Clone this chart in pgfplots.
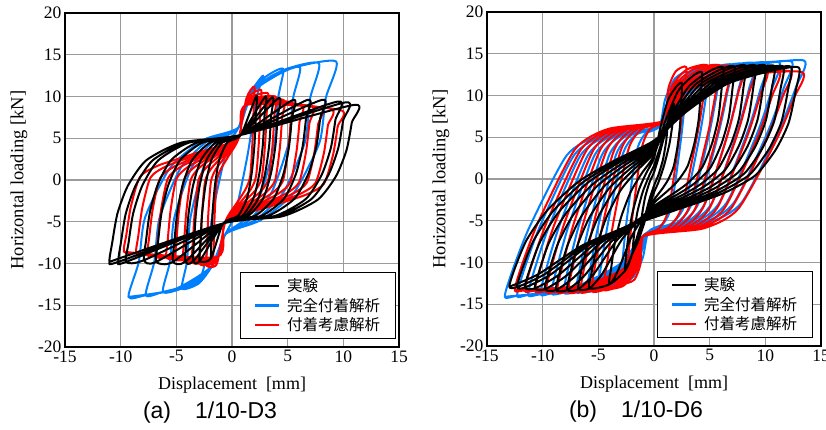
\documentclass[border=0pt]{standalone}
\usepackage{fontspec}
\setmainfont{Liberation Serif}
\newfontfamily\arial{Liberation Sans}
\newfontfamily\cjk{Noto Sans CJK JP}
\usepackage{pgfplots}
\pgfplotsset{compat=1.18}
\definecolor{cblue}{RGB}{0,128,255}
\definecolor{cred}{RGB}{255,0,0}
\definecolor{cgrid}{RGB}{155,155,155}
\pgfplotsset{
 hyst/.style={
  scale only axis, width=334pt, height=334pt,
  xmin=-15,xmax=15,ymin=-20,ymax=20,
  xtick={-15,-10,-5,0,5,10,15}, xticklabels={-15,-10,-5,0,5,10,15},
  ytick={-20,-15,-10,-5,0,5,10,15,20}, yticklabels={-20,-15,-10,-5,0,5,10,15,20},
  grid=major, major grid style={cgrid, line width=1.4pt},
  major tick length=0pt,
  axis line style={black, line width=1.1pt},
  tick label style={font=\fontsize{17.5}{17.5}\selectfont},
  xlabel={Displacement\ \ [mm]},
  ylabel={Horizontal loading [kN]},
  xlabel style={at={(axis description cs:0.5,-0.114)}, anchor=center, font=\fontsize{18}{18}\selectfont},
  ylabel style={at={(axis description cs:-0.138,0.5)}, anchor=center, font=\fontsize{18.5}{18.5}\selectfont},
  legend style={at={(0.99,0.024)}, anchor=south east, draw=black, line width=1pt, fill=white,
    font=\cjk\fontsize{15.5}{15.5}\selectfont, inner xsep=13pt, inner ysep=4pt, row sep=1pt, cells={anchor=west}},
  legend image code/.code={\draw[#1] (0pt,0pt) -- (24pt,0pt); \path (29pt,0pt);},
  every axis plot/.append style={line width=2.0pt, line join=round, mark=none, smooth, tension=0.4},
 }
}
\begin{document}
\begin{tikzpicture}
\useasboundingbox (-65pt,-83pt) rectangle (761pt,347pt);
\begin{axis}[hyst, name=A]
\addlegendimage{black, line width=2.6pt}\addlegendentry{実験}
\addlegendimage{cblue, line width=2.6pt}\addlegendentry{完全付着解析}
\addlegendimage{cred, line width=2.6pt}\addlegendentry{付着考慮解析}
% blue (full bond)
\addplot[cblue, forget plot] coordinates {
(-3.0,-12.4) (-2.4,-9.8) (-1.6,-3) (-0.4,4) (0.6,6.3) (1.6,10.3) (2.8,12.5)
(2.2,9.8) (1.4,3) (0.3,-4) (-0.6,-6.5) (-1.8,-10.3) (-3.0,-12.4)
(-4.5,-13.0) (-4.05,-9.8) (-3.73,-4.5) (-2.56,1.5) (-1.03,4.8) (0.6,6.3) (1.8,10.5) (3.06,12.4) (4.6,13.3)
(4.14,9.8) (3.82,4.5) (2.62,-1.5) (1.06,-4.8) (-0.6,-6.5) (-1.8,-10.3) (-3.02,-12.1) (-4.5,-13.0)
(-6.2,-13.4) (-5.58,-9.8) (-5.18,-4.5) (-3.62,1.5) (-1.58,4.8) (0.6,6.3) (1.8,10.5) (3.74,12.6) (6.1,13.5)
(5.49,9.8) (5.1,4.5) (3.55,-1.5) (1.54,-4.8) (-0.6,-6.5) (-1.8,-10.3) (-3.78,-12.5) (-6.2,-13.4)
(-7.75,-13.8) (-6.98,-9.8) (-6.5,-4.5) (-4.58,1.5) (-2.07,4.8) (0.6,6.3) (1.8,10.5) (4.5,13.1) (7.8,14.0)
(7.02,9.8) (6.54,4.5) (4.61,-1.5) (2.09,-4.8) (-0.6,-6.5) (-1.8,-10.3) (-4.48,-12.9) (-7.75,-13.8)
(-9.3,-14.0) (-8.37,-9.8) (-7.81,-4.5) (-5.54,1.5) (-2.57,4.8) (0.6,6.3) (1.8,10.5) (5.2,13.3) (9.35,14.2)
(8.42,9.8) (7.86,4.5) (5.57,-1.5) (2.58,-4.8) (-0.6,-6.5) (-1.8,-10.3) (-5.18,-13.1) (-9.3,-14.0)
};
% red (bond-slip)
\addplot[cred, forget plot] coordinates {
(-1.7,-10.4) (-1.65,-8.09) (-1.56,-4.24) (-1.38,-0.24) (-1.01,1.3) (-0.32,2.84) (0.6,5.0) (1.3,9.8) (2.0,11.2)
(1.95,8.77) (1.84,4.72) (1.64,0.51) (1.22,-1.11) (0.44,-2.73) (-0.6,-5.0) (-1.3,-9.8) (-1.7,-10.4)
(-2.3,-10.2) (-2.24,-7.92) (-2.13,-4.12) (-1.89,-0.17) (-1.43,1.35) (-0.56,2.87) (0.6,5.0) (1.3,9.6) (2.6,10.8)
(2.54,8.43) (2.41,4.48) (2.15,0.37) (1.64,-1.21) (0.68,-2.79) (-0.6,-5.0) (-1.3,-9.6) (-2.3,-10.2)
(-2.9,-10.0) (-2.83,-7.75) (-2.69,-4.0) (-2.41,-0.1) (-1.85,1.4) (-0.8,2.9) (0.6,5.0) (1.3,9.5) (3.2,10.4)
(3.12,8.09) (2.97,4.24) (2.67,0.24) (2.06,-1.3) (0.92,-2.84) (-0.6,-5.0) (-1.3,-9.5) (-2.9,-10.0)
(-3.6,-9.8) (-3.52,-7.58) (-3.35,-3.88) (-3.01,-0.03) (-2.34,1.45) (-1.08,2.93) (0.6,5.0) (1.3,9.4) (3.9,10.0)
(3.81,7.75) (3.63,4.0) (3.27,0.1) (2.55,-1.4) (1.2,-2.9) (-0.6,-5.0) (-1.3,-9.4) (-3.6,-9.8)
(-4.4,-9.6) (-4.3,-7.41) (-4.1,-3.76) (-3.7,0.04) (-2.9,1.5) (-1.4,2.96) (0.6,5.0) (1.3,9.3) (4.6,9.6)
(4.5,7.41) (4.29,3.76) (3.87,-0.04) (3.04,-1.5) (1.48,-2.96) (-0.6,-5.0) (-1.3,-9.3) (-4.4,-9.6)
(-5.1,-9.45) (-4.99,-7.28) (-4.76,-3.67) (-4.3,0.09) (-3.39,1.53) (-1.68,2.98) (0.6,5.0) (1.3,9.1) (5.4,9.3)
(5.28,7.15) (5.04,3.58) (4.56,-0.14) (3.6,-1.57) (1.8,-3.0) (-0.6,-5.0) (-1.3,-9.2) (-5.1,-9.45)
(-5.9,-9.3) (-5.77,-7.15) (-5.51,-3.58) (-4.99,0.14) (-3.95,1.57) (-2.0,3.0) (0.6,5.0) (1.3,9.0) (6.2,9.0)
(6.06,6.9) (5.79,3.4) (5.25,-0.24) (4.16,-1.64) (2.12,-3.04) (-0.6,-5.0) (-1.3,-9.2) (-5.9,-9.3)
(-6.8,-9.15) (-6.65,-7.03) (-6.36,-3.49) (-5.76,0.19) (-4.58,1.6) (-2.36,3.02) (0.6,5.0) (1.3,9.0) (7.1,8.85)
(6.95,6.77) (6.64,3.31) (6.02,-0.29) (4.79,-1.68) (2.48,-3.06) (-0.6,-5.0) (-1.3,-9.2) (-6.8,-9.15)
(-7.6,-9.0) (-7.44,-6.9) (-7.11,-3.4) (-6.45,0.24) (-5.14,1.64) (-2.68,3.04) (0.6,5.0) (1.3,9.0) (7.9,8.7)
(7.73,6.64) (7.39,3.22) (6.71,-0.34) (5.35,-1.71) (2.8,-3.08) (-0.6,-5.0) (-1.3,-9.2) (-7.6,-9.0)
(-8.6,-8.8) (-8.42,-6.73) (-8.05,-3.28) (-7.31,0.31) (-5.84,1.69) (-3.08,3.07) (0.6,5.0) (1.3,9.0) (8.8,8.55)
(8.61,6.52) (8.24,3.13) (7.48,-0.39) (5.98,-1.75) (3.16,-3.1) (-0.6,-5.0) (-1.3,-9.2) (-8.6,-8.8)
(-9.7,-8.6) (-9.49,-6.56) (-9.08,-3.16) (-8.26,0.38) (-6.61,1.74) (-3.52,3.10) (0.6,5.0) (1.3,9.0) (9.7,8.4)
(9.49,6.39) (9.08,3.04) (8.26,-0.44) (6.61,-1.78) (3.52,-3.12) (-0.6,-5.0) (-1.3,-9.2) (-9.7,-8.6)
};
% black (experiment)
\addplot[black, forget plot] coordinates {
(-1.9,-9.4) (-1.85,-7.18) (-1.74,-3.78) (-1.52,-0.52) (-1.14,2.44) (-0.41,4.51) (0.8,5.4) (2.2,10.1)
(2.14,7.8) (2.02,4.29) (1.78,0.92) (1.36,-2.14) (0.55,-4.28) (-0.8,-5.2) (-1.9,-9.4)
(-2.9,-9.7) (-2.83,-7.43) (-2.68,-3.96) (-2.38,-0.64) (-1.86,2.38) (-0.86,4.49) (0.8,5.4) (3.0,10.0)
(2.92,7.72) (2.77,4.22) (2.47,0.88) (1.94,-2.16) (0.91,-4.29) (-0.8,-5.2) (-2.9,-9.7)
(-3.5,-9.75) (-3.41,-7.48) (-3.24,-3.99) (-2.9,-0.66) (-2.3,2.37) (-1.13,4.49) (0.8,5.4) (3.6,9.9)
(3.51,7.63) (3.34,4.16) (2.98,0.84) (2.37,-2.18) (1.18,-4.29) (-0.8,-5.2) (-3.5,-9.75)
(-4.2,-9.8) (-4.1,-7.52) (-3.9,-4.02) (-3.5,-0.68) (-2.8,2.36) (-1.45,4.49) (0.8,5.4) (4.2,9.8)
(4.1,7.55) (3.9,4.1) (3.5,0.8) (2.8,-2.2) (1.45,-4.3) (-0.8,-5.2) (-4.2,-9.8)
(-5.3,-9.8) (-5.18,-7.52) (-4.93,-4.02) (-4.45,-0.68) (-3.59,2.36) (-1.94,4.49) (0.8,5.4) (5.5,9.6)
(5.37,7.38) (5.12,3.98) (4.62,0.72) (3.74,-2.24) (2.03,-4.31) (-0.8,-5.2) (-5.3,-9.8)
(-6.8,-9.8) (-6.65,-7.52) (-6.34,-4.02) (-5.74,-0.68) (-4.67,2.36) (-2.62,4.49) (0.8,5.4) (6.8,9.6)
(6.65,7.38) (6.34,3.98) (5.74,0.72) (4.67,-2.24) (2.62,-4.31) (-0.8,-5.2) (-6.8,-9.8)
(-7.9,-9.6) (-7.73,-7.35) (-7.38,-3.9) (-6.68,-0.6) (-5.46,2.4) (-3.11,4.5) (0.8,5.4) (8.1,9.6)
(7.92,7.38) (7.57,3.98) (6.85,0.72) (5.61,-2.24) (3.2,-4.31) (-0.8,-5.2) (-7.9,-9.6)
(-9.5,-9.8) (-9.29,-7.52) (-8.88,-4.02) (-8.06,-0.68) (-6.62,2.36) (-3.83,4.49) (0.8,5.4) (9.5,9.4)
(9.29,7.21) (8.88,3.85) (8.06,0.64) (6.62,-2.28) (3.83,-4.32) (-0.8,-5.2) (-9.5,-9.8)
(-10.2,-9.8) (-9.98,-7.52) (-9.54,-4.02) (-8.66,-0.68) (-7.12,2.36) (-4.15,4.49) (0.8,5.4) (10.2,9.3)
(9.98,7.12) (9.54,3.79) (8.66,0.6) (7.12,-2.3) (4.15,-4.33) (-0.8,-5.2) (-10.2,-9.8)
(-11,-9.8) (-10.76,-7.52) (-10.29,-4.02) (-9.35,-0.68) (-7.7,2.36) (-4.51,4.49) (0.8,5.4) (11,9.0)
(10.76,6.87) (10.29,3.6) (9.35,0.48) (7.7,-2.36) (4.51,-4.35) (-0.8,-5.2) (-11,-9.8)
};
\end{axis}
\node[font=\arial\fontsize{23}{23}\selectfont, xshift=-22pt, yshift=-66pt] at (A.south) {(a)\hspace{24pt}1/10-D3};
\begin{axis}[hyst, name=B, at={(422pt,1pt)}, anchor=south west, legend style={at={(0.975,0.024)}}]
\addlegendimage{black, line width=2.6pt}\addlegendentry{実験}
\addlegendimage{cblue, line width=2.6pt}\addlegendentry{完全付着解析}
\addlegendimage{cred, line width=2.6pt}\addlegendentry{付着考慮解析}
\addplot[cblue, forget plot] coordinates {
(-3.0,-12.5) (-2.82,-9.57) (-2.44,-4.79) (-1.6,3.1) (-0.83,5.36) (0.5,6.3) (1.0,9.55) (1.88,12.02) (3.0,12.8)
(2.82,9.82) (2.44,4.97) (1.6,-3.05) (0.83,-5.35) (-0.5,-6.3) (-1.0,-9.4) (-1.88,-11.76) (-3.0,-12.5)
(-5.0,-13.2) (-4.72,-10.16) (-4.12,-5.2) (-2.8,2.99) (-1.59,5.33) (0.5,6.3) (1.4,9.85) (2.98,12.55) (5.0,13.4)
(4.72,10.33) (4.12,5.32) (2.8,-2.95) (1.59,-5.32) (-0.5,-6.3) (-1.4,-9.75) (-2.98,-12.37) (-5.0,-13.2)
(-6.0,-13.4) (-5.67,-10.33) (-4.96,-5.32) (-3.4,2.95) (-1.97,5.32) (0.5,6.3) (1.6,9.95) (3.53,12.72) (6.0,13.6)
(5.67,10.5) (4.96,5.44) (3.4,-2.92) (1.97,-5.31) (-0.5,-6.3) (-1.6,-9.85) (-3.53,-12.55) (-6.0,-13.4)
(-7.0,-13.5) (-6.62,-10.41) (-5.8,-5.38) (-4.0,2.93) (-2.35,5.31) (0.5,6.3) (1.8,10.0) (4.08,12.81) (7.0,13.7)
(6.62,10.58) (5.8,5.5) (4.0,-2.9) (2.35,-5.3) (-0.5,-6.3) (-1.8,-9.9) (-4.08,-12.64) (-7.0,-13.5)
(-8.1,-13.6) (-7.67,-10.5) (-6.72,-5.44) (-4.66,2.92) (-2.77,5.31) (0.5,6.3) (2.0,10.05) (4.63,12.9) (8.0,13.8)
(7.57,10.66) (6.64,5.56) (4.6,-2.88) (2.73,-5.3) (-0.5,-6.3) (-2.02,-9.95) (-4.68,-12.72) (-8.1,-13.6)
(-9.2,-13.7) (-8.71,-10.58) (-7.65,-5.5) (-5.32,2.9) (-3.19,5.3) (0.5,6.3) (2.2,10.1) (5.18,12.99) (9.0,13.9)
(8.52,10.75) (7.48,5.62) (5.2,-2.87) (3.11,-5.29) (-0.5,-6.3) (-2.24,-10.0) (-5.29,-12.81) (-9.2,-13.7)
(-10.2,-13.8) (-9.66,-10.66) (-8.49,-5.56) (-5.92,2.88) (-3.57,5.3) (0.5,6.3) (2.42,10.13) (5.78,13.03) (10.1,13.95)
(9.57,10.79) (8.4,5.65) (5.86,-2.86) (3.53,-5.29) (-0.5,-6.3) (-2.44,-10.05) (-5.84,-12.9) (-10.2,-13.8)
(-11.3,-13.9) (-10.71,-10.75) (-9.41,-5.62) (-6.58,2.87) (-3.98,5.29) (0.5,6.3) (2.64,10.15) (6.39,13.08) (11.2,14.0)
(10.61,10.83) (9.33,5.68) (6.52,-2.85) (3.95,-5.29) (-0.5,-6.3) (-2.66,-10.1) (-6.44,-12.99) (-11.3,-13.9)
(-12.3,-14.0) (-11.66,-10.83) (-10.25,-5.68) (-7.18,2.85) (-4.36,5.29) (0.5,6.3) (2.86,10.2) (6.99,13.16) (12.3,14.1)
(11.66,10.92) (10.25,5.74) (7.18,-2.83) (4.36,-5.28) (-0.5,-6.3) (-2.86,-10.15) (-6.99,-13.08) (-12.3,-14.0)
(-13.4,-14.1) (-12.7,-10.92) (-11.18,-5.74) (-7.84,2.83) (-4.78,5.28) (0.5,6.3) (3.09,10.25) (7.62,13.25) (13.45,14.2)
(12.75,11.0) (11.22,5.79) (7.87,-2.82) (4.8,-5.28) (-0.5,-6.3) (-3.08,-10.2) (-7.6,-13.16) (-13.4,-14.1)
};
\addplot[cred, forget plot] coordinates {
(-2.5,-12.5) (-2.32,-9.46) (-1.94,-4.5) (-1.1,3.69) (-0.33,6.03) (1.0,7.0) (1.29,10.84) (1.95,12.89) (2.9,13.4)
(2.7,10.23) (2.28,5.08) (1.34,-3.45) (0.48,-5.89) (-1.0,-6.9) (-1.23,-10.26) (-1.75,-12.05) (-2.5,-12.5)
(-4.5,-13.3) (-4.22,-10.13) (-3.62,-4.98) (-2.3,3.55) (-1.09,5.99) (1.0,7.0) (1.57,10.96) (2.9,13.07) (4.8,13.6)
(4.51,10.4) (3.87,5.19) (2.48,-3.42) (1.2,-5.88) (-1.0,-6.9) (-1.53,-10.74) (-2.75,-12.79) (-4.5,-13.3)
(-5.6,-13.4) (-5.27,-10.22) (-4.54,-5.04) (-2.96,3.53) (-1.51,5.98) (1.0,7.0) (1.74,10.96) (3.45,13.07) (5.9,13.6)
(5.55,10.4) (4.8,5.19) (3.14,-3.42) (1.62,-5.88) (-1.0,-6.9) (-1.69,-10.8) (-3.3,-12.88) (-5.6,-13.4)
(-6.6,-13.5) (-6.22,-10.3) (-5.38,-5.09) (-3.56,3.52) (-1.89,5.98) (1.0,7.0) (1.89,10.9) (3.95,12.98) (6.9,13.5)
(6.5,10.32) (5.64,5.14) (3.74,-3.43) (2.0,-5.88) (-1.0,-6.9) (-1.84,-10.86) (-3.8,-12.97) (-6.6,-13.5)
(-7.7,-13.5) (-7.26,-10.3) (-6.31,-5.09) (-4.22,3.52) (-2.31,5.98) (1.0,7.0) (2.05,10.84) (4.5,12.89) (8.0,13.4)
(7.55,10.23) (6.56,5.08) (4.4,-3.45) (2.42,-5.89) (-1.0,-6.9) (-2.0,-10.86) (-4.35,-12.97) (-7.7,-13.5)
(-8.7,-13.5) (-8.21,-10.3) (-7.15,-5.09) (-4.82,3.52) (-2.69,5.98) (1.0,7.0) (2.2,10.78) (5.0,12.8) (9.0,13.3)
(8.5,10.15) (7.4,5.02) (5.0,-3.47) (2.8,-5.89) (-1.0,-6.9) (-2.16,-10.86) (-4.85,-12.97) (-8.7,-13.5)
(-9.7,-13.45) (-9.16,-10.26) (-7.99,-5.07) (-5.42,3.52) (-3.07,5.98) (1.0,7.0) (2.37,10.69) (5.55,12.66) (10.1,13.15)
(9.54,10.02) (8.32,4.93) (5.66,-3.49) (3.22,-5.9) (-1.0,-6.9) (-2.31,-10.83) (-5.35,-12.93) (-9.7,-13.45)
(-10.7,-13.4) (-10.11,-10.22) (-8.83,-5.04) (-6.02,3.53) (-3.45,5.98) (1.0,7.0) (2.53,10.6) (6.1,12.52) (11.2,13.0)
(10.59,9.9) (9.25,4.84) (6.32,-3.52) (3.64,-5.91) (-1.0,-6.9) (-2.46,-10.8) (-5.85,-12.88) (-10.7,-13.4)
(-11.6,-13.35) (-10.97,-10.18) (-9.58,-5.01) (-6.56,3.54) (-3.79,5.98) (1.0,7.0) (2.68,10.54) (6.6,12.43) (12.2,12.9)
(11.54,9.81) (10.09,4.78) (6.92,-3.53) (4.02,-5.91) (-1.0,-6.9) (-2.59,-10.77) (-6.3,-12.83) (-11.6,-13.35)
(-12.5,-13.3) (-11.82,-10.13) (-10.34,-4.98) (-7.1,3.55) (-4.13,5.99) (1.0,7.0) (2.85,10.48) (7.15,12.34) (13.3,12.8)
(12.58,9.73) (11.01,4.72) (7.58,-3.55) (4.43,-5.92) (-1.0,-6.9) (-2.73,-10.74) (-6.75,-12.79) (-12.5,-13.3)
};
\addplot[black, forget plot] coordinates {
(-1.2,-6.3) (-1.1,-4.5) (-0.8,-2.2) (-0.4,-0.4) (0,0.8) (0.4,2.5) (0.8,4.5) (1.2,6.5)
(1.1,4.6) (0.8,2.3) (0.4,0.5) (0,-0.8) (-0.4,-2.4) (-0.8,-4.4) (-1.2,-6.3)
(-1.9,-8.8) (-1.8,-6.8) (-1.5,-4.0) (-1.0,-1.5) (-0.4,0.5) (0,1.6) (0.5,3.6) (1.0,5.8) (1.5,7.9) (1.8,9.0)
(1.7,7.0) (1.4,4.3) (0.9,1.6) (0.4,-0.4) (0,-1.6) (-0.5,-3.6) (-1.0,-5.8) (-1.5,-7.7) (-1.9,-8.8)
(-2.6,-11.0) (-2.5,-9.24) (-2.29,-6.67) (-1.92,-3.97) (-1.35,-1.27) (-0.73,0.63) (0,2.52) (0.55,6.02) (1.25,9.43) (2.0,11.05) (2.5,11.5)
(2.45,9.4) (2.33,6.32) (2.1,3.8) (1.75,1.42) (1.25,-0.12) (0.78,-1.1) (0,-2.5) (-0.57,-3.86) (-1.3,-5.99) (-2.08,-9.47) (-2.6,-11.0)
(-4.0,-12.6) (-3.84,-10.6) (-3.52,-7.67) (-2.96,-4.59) (-2.08,-1.51) (-1.12,0.64) (0,2.8) (0.95,6.7) (2.15,10.5) (3.44,12.3) (4.3,12.8)
(4.21,10.45) (4.0,7.01) (3.61,4.19) (3.01,1.52) (2.15,-0.2) (1.33,-1.29) (0,-2.86) (-0.88,-4.42) (-2.0,-6.85) (-3.2,-10.85) (-4.0,-12.6)
(-5.8,-13.1) (-5.57,-10.99) (-5.1,-7.9) (-4.29,-4.64) (-3.02,-1.39) (-1.62,0.88) (0,3.16) (1.36,7.15) (3.1,11.04) (4.96,12.89) (6.2,13.4)
(6.08,10.9) (5.77,7.24) (5.21,4.25) (4.34,1.42) (3.1,-0.41) (1.92,-1.58) (0,-3.24) (-1.28,-4.82) (-2.9,-7.28) (-4.64,-11.33) (-5.8,-13.1)
(-6.8,-13.2) (-6.53,-11.05) (-5.98,-7.9) (-5.03,-4.59) (-3.54,-1.28) (-1.9,1.04) (0,3.36) (1.58,7.31) (3.6,11.17) (5.76,12.99) (7.2,13.5)
(7.06,10.96) (6.7,7.23) (6.05,4.18) (5.04,1.3) (3.6,-0.56) (2.23,-1.75) (0,-3.44) (-1.5,-5.0) (-3.4,-7.44) (-5.44,-11.44) (-6.8,-13.2)
(-7.8,-13.3) (-7.49,-11.11) (-6.86,-7.9) (-5.77,-4.53) (-4.06,-1.16) (-2.18,1.2) (0,3.56) (1.8,7.48) (4.1,11.29) (6.56,13.1) (8.2,13.6)
(8.04,11.01) (7.63,7.22) (6.89,4.12) (5.74,1.19) (4.1,-0.71) (2.54,-1.92) (0,-3.64) (-1.72,-5.19) (-3.9,-7.6) (-6.24,-11.56) (-7.8,-13.3)
(-8.8,-13.3) (-8.45,-11.08) (-7.74,-7.84) (-6.51,-4.43) (-4.58,-1.02) (-2.46,1.37) (0,3.76) (2.0,7.6) (4.55,11.34) (7.28,13.11) (9.1,13.6)
(8.92,10.99) (8.46,7.15) (7.64,4.02) (6.37,1.06) (4.55,-0.86) (2.82,-2.08) (0,-3.82) (-1.94,-5.34) (-4.4,-7.71) (-7.04,-11.59) (-8.8,-13.3)
(-9.8,-13.2) (-9.41,-10.97) (-8.62,-7.71) (-7.25,-4.28) (-5.1,-0.84) (-2.74,1.56) (0,3.96) (2.2,7.72) (5.0,11.38) (8.0,13.12) (10.0,13.6)
(9.8,10.96) (9.3,7.09) (8.4,3.92) (7.0,0.93) (5.0,-1.01) (3.1,-2.24) (0,-4.0) (-2.16,-5.47) (-4.9,-7.77) (-7.84,-11.54) (-9.8,-13.2)
(-10.7,-13.1) (-10.27,-10.86) (-9.42,-7.58) (-7.92,-4.14) (-5.56,-0.69) (-3.0,1.73) (0,4.14) (2.38,7.81) (5.4,11.39) (8.64,13.08) (10.8,13.55)
(10.58,10.89) (10.04,7.0) (9.07,3.81) (7.56,0.8) (5.4,-1.15) (3.35,-2.39) (0,-4.16) (-2.35,-5.59) (-5.35,-7.83) (-8.56,-11.49) (-10.7,-13.1)
(-11.6,-13.0) (-11.14,-10.75) (-10.21,-7.46) (-8.58,-3.99) (-6.03,-0.53) (-3.25,1.9) (0,4.32) (2.55,7.9) (5.8,11.39) (9.28,13.04) (11.6,13.5)
(11.37,10.83) (10.79,6.91) (9.74,3.7) (8.12,0.67) (5.8,-1.29) (3.6,-2.54) (0,-4.32) (-2.55,-5.71) (-5.8,-7.88) (-9.28,-11.44) (-11.6,-13.0)
(-12.3,-12.95) (-11.81,-10.69) (-10.82,-7.38) (-9.1,-3.9) (-6.4,-0.41) (-3.44,2.02) (0,4.46) (2.71,7.97) (6.15,11.38) (9.84,13.0) (12.3,13.45)
(12.05,10.76) (11.44,6.82) (10.33,3.6) (8.61,0.55) (6.15,-1.42) (3.81,-2.67) (0,-4.46) (-2.71,-5.82) (-6.15,-7.94) (-9.84,-11.42) (-12.3,-12.95)
(-13,-12.9) (-12.48,-10.62) (-11.44,-7.3) (-9.62,-3.8) (-6.76,-0.3) (-3.64,2.15) (0,4.6) (2.86,8.01) (6.5,11.34) (10.4,12.91) (13,13.35)
(12.74,10.66) (12.09,6.71) (10.92,3.48) (9.1,0.43) (6.5,-1.55) (4.03,-2.79) (0,-4.6) (-2.86,-5.93) (-6.5,-8.0) (-10.4,-11.41) (-13,-12.9)
};
\end{axis}
\node[font=\arial\fontsize{23}{23}\selectfont, xshift=-18pt, yshift=-66pt] at (B.south) {(b)\hspace{24pt}1/10-D6};
\end{tikzpicture}
\end{document}
